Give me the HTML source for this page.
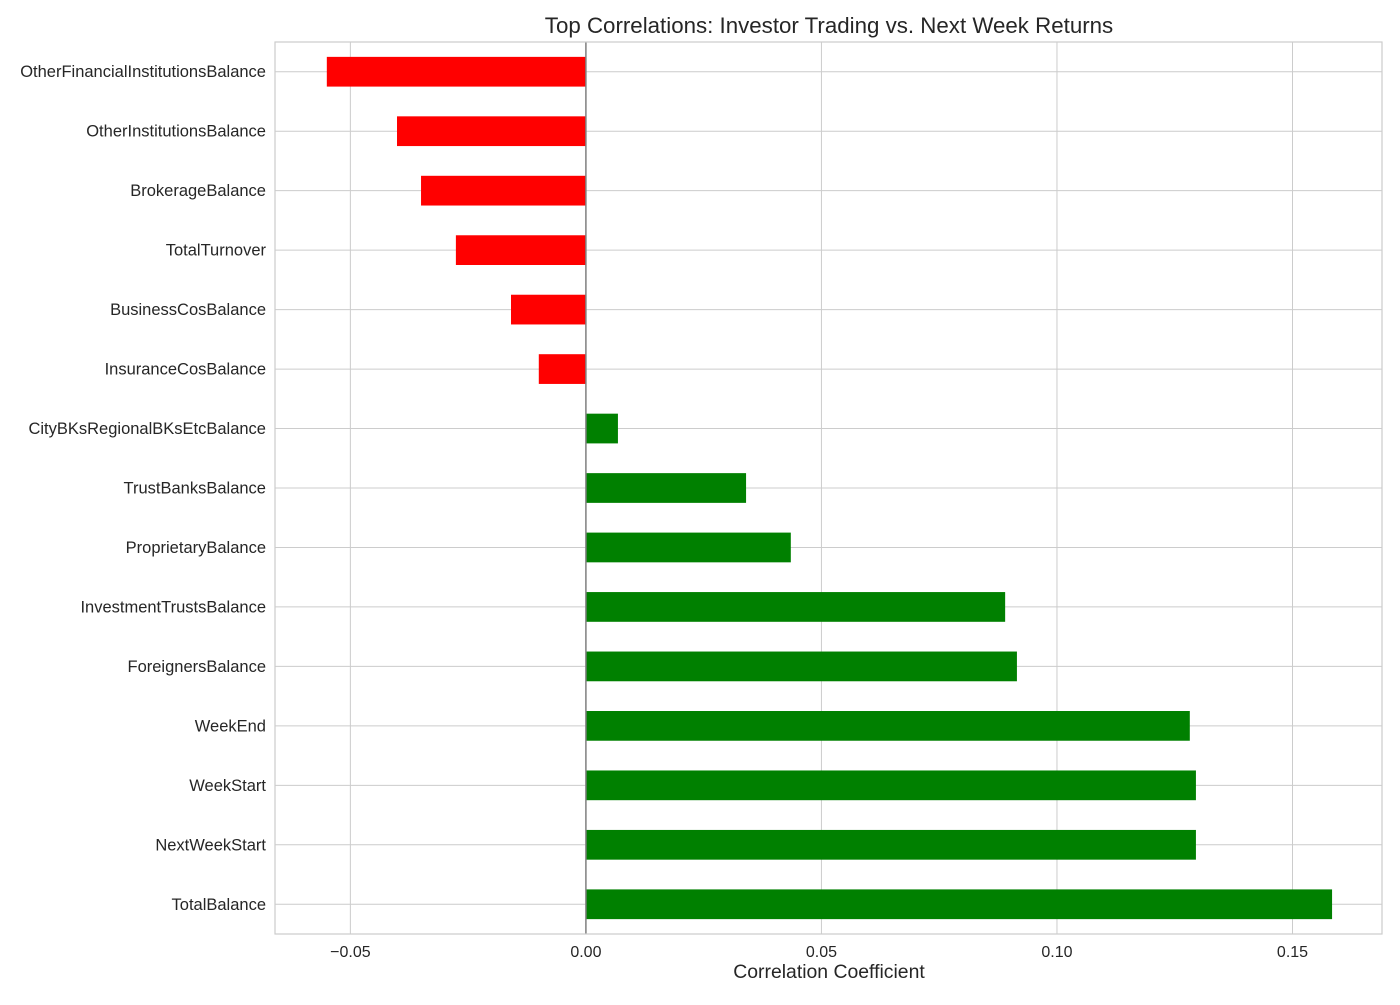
<!DOCTYPE html>
<html><head><meta charset="utf-8"><style>
body{margin:0;background:#fff;}
svg{font-family:"Liberation Sans",Arial,sans-serif;}
</style></head><body>
<svg id="chart" width="1400" height="1000" viewBox="0 0 1400 1000" xmlns="http://www.w3.org/2000/svg">
<rect width="1400" height="1000" fill="#fff"/>
<text x="829" y="33" font-size="22.3" text-anchor="middle" fill="#262626">Top Correlations: Investor Trading vs. Next Week Returns</text>
<text x="829" y="978" font-size="19.4" text-anchor="middle" fill="#262626">Correlation Coefficient</text>
<g id="grid"></g><g id="bars"></g><g id="axes"></g>
</svg>
<script>
const categories=["OtherFinancialInstitutionsBalance","OtherInstitutionsBalance","BrokerageBalance","TotalTurnover","BusinessCosBalance","InsuranceCosBalance","CityBKsRegionalBKsEtcBalance","TrustBanksBalance","ProprietaryBalance","InvestmentTrustsBalance","ForeignersBalance","WeekEnd","WeekStart","NextWeekStart","TotalBalance"];
const values=[-0.055,-0.0401,-0.035,-0.0276,-0.0159,-0.010,0.0068,0.034,0.0435,0.089,0.0915,0.1282,0.1295,0.1295,0.1584];
const xTicks=[-0.05,0,0.05,0.10,0.15];
const xTickLabels=["\u22120.05","0.00","0.05","0.10","0.15"];
const L=275,R=1382,T=42,B=934,xmin=-0.066,xmax=0.169;
const NS="http://www.w3.org/2000/svg";
function x(v){return L+(v-xmin)/(xmax-xmin)*(R-L);}
const band=(B-T)/categories.length;
function y(i){return T+band*(i+0.5);}
function mk(tag,attrs,parent){const e=document.createElementNS(NS,tag);for(const k in attrs)e.setAttribute(k,attrs[k]);parent.appendChild(e);return e;}
const grid=document.getElementById('grid'),bars=document.getElementById('bars'),axes=document.getElementById('axes');
xTicks.forEach((t,i)=>{
 const g=mk('line',{x1:x(t),x2:x(t),y1:T,y2:B,stroke:'#cccccc','stroke-width':1},grid);
 
 
 const tx=mk('text',{x:x(t),y:957,'font-size':16,'text-anchor':'middle',fill:'#262626'},axes);
 tx.textContent=xTickLabels[i];
 
 
});
categories.forEach((c,i)=>{
 const g=mk('line',{x1:L,x2:R,y1:y(i),y2:y(i),stroke:'#cccccc','stroke-width':1},grid);
 
 
 const v=values[i];
 const r=mk('rect',{x:Math.min(x(0),x(v)),y:y(i)-band*0.25,width:Math.abs(x(v)-x(0)),height:band*0.5,fill:v<0?'#ff0000':'#008000'},bars);
 
 
 const tx=mk('text',{x:L-9,y:y(i)+5.5,'font-size':16.5,'text-anchor':'end',fill:'#262626'},axes);
 tx.textContent=c;
 
 
});
const z=mk('line',{x1:x(0),x2:x(0),y1:T,y2:B,stroke:'#808080','stroke-width':1.5},axes);


const f=mk('rect',{x:L,y:T,width:R-L,height:B-T,fill:'none',stroke:'#cccccc','stroke-width':1.2},axes);


</script>
</body></html>
